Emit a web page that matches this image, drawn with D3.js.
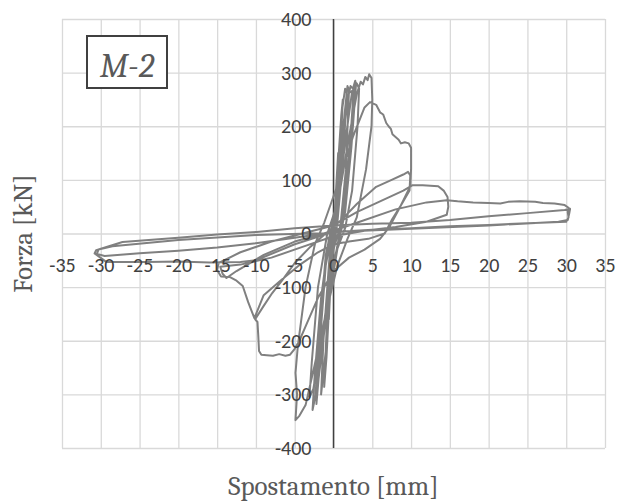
<!DOCTYPE html>
<html>
<head>
<meta charset="utf-8">
<script src="https://cdn.jsdelivr.net/npm/d3@7"></script>
<style>
  body { margin: 0; background: #fff; }
  svg { display: block; }
</style>
</head>
<body>
<div id="container"></div>
<script>
/* CONSTANTS AND GLOBALS */
const width = 630;
const height = 503;
const margin = {top: 19, bottom: 55, left: 62, right: 25};

/* DATA */
const xTicks = [-35, -30, -25, -20, -15, -10, -5, 0, 5, 10, 15, 20, 25, 30, 35];
const yTicks = [-400, -300, -200, -100, 0, 100, 200, 300, 400];
const specimen = "M-2";

// spostamento [mm] in load order
const spostamento = [
  0, 0.4, 0.6, 0.3, 0, -0.4, -0.6, -0.3, 0,
  0.5, 1.0, 1.2, 0.8, 0.3, -0.3, -0.9, -1.2, -0.8, -0.2,
  0.4, 1.1, 1.5, 1.7, 1.3, 0.5, -0.2, -1.0, -1.6, -1.3, -0.5,
  0.2, 1.0, 1.8, 2.2, 2.5, 2.8, 2.9, 2.3, 1.5, 0.6, -1.0, -2.0, -2.7, -2.4, -1.6, -0.6,
  0.5, 1.6, 2.4, 2.8, 3.0, 3.3, 3.1, 2.4, 1.5, 0.2, -1.3, -2.6, -3.1, -2.8, -2.0, -0.8,
  0.6, 1.4, 2.0, 2.6, 2.2, 1.2, 0.0, -1.5, -2.3, -2.0, -1.0,
  0.2, 1.2, 1.8, 2.0, 1.6, 0.8, -0.8, -1.8, -2.2, -1.9, -1.0, 0.0,
  0.6, 2.0, 3.0, 3.5, 3.8, 4.1, 4.4, 4.6, 4.9, 5.0, 4.9, 4.2, 3.0, 1.8, 0.5,
  -1.0, -2.5, -3.6, -4.4, -4.9, -4.7, -4.9, -4.6, -3.6, -2.4, -1.2,
  0.5, 2.5, 4.0, 4.7, 5.5, 6.0, 6.4, 6.8, 7.1, 7.4, 7.6, 8.0, 8.4, 8.7, 9.2, 9.7, 10.0, 10.0, 9.9,
  8.6, 7.2, 6.0, 4.0, 2.0, 0.0, -2.0, -3.5, -4.4, -5.0, -5.6, -6.2, -7.0, -7.8, -8.6, -9.3, -9.6, -9.7, -9.8, -10.1,
  -9.0, -7.9, -6.5, -5.0, -3.0, -1.0, 1.0, 3.0, 5.5, 7.5, 9.0, 9.6, 9.9, 9.8,
  8.8, 7.5, 6.6, 4.5, 2.0, 0.0, -2.0, -4.5, -7.0, -9.0, -10.2, -11.0, -11.7, -12.5, -13.4, -14.5, -15.0, -14.8,
  -12.0, -8.0, -4.0, 0.0, 3.0, 6.0, 9.0, 10.2, 11.5, 12.5, 13.5, 14.2, 14.7, 14.8, 14.6,
  12.0, 8.0, 4.0, 0.0, -4.0, -8.0, -12.0, -14.6, -14.3, -13.8,
  -12.5, -9.0, -5.0, 0.0, 3.0, 8.0, 12.0, 14.6, 16.0, 18.0, 20.0, 21.5, 22.5, 24.0, 26.0, 27.0, 28.5, 29.8, 30.3, 30.2, 30.3, 30.0,
  25.0, 20.0, 15.0, 10.0, 5.0, 0.0, -5.0, -10.0, -12.0, -16.0, -20.0, -24.0, -27.6, -29.3, -30.8,
  -30.6, -27.2, -20.0, -15.0, -9.9, -5.0, 0.0, 5.0, 10.0, 15.0, 20.0, 25.0, 29.8, 30.5, 30.4, 30.2,
  29.0, 20.0, 10.0, 0.0, -5.0, -10.0, -15.0, -20.0, -25.0, -29.5, -30.5, -30.3,
  -28.5, -20.0, -10.0, -3.0, 0.0
];

// forza [kN], same order
const forza = [
  0, 100, 150, 60, 5, -100, -160, -60, -5,
  110, 220, 250, 120, 20, -60, -230, -286, -150, -20,
  60, 230, 270, 262, 150, 20, -50, -220, -300, -200, -40,
  30, 160, 250, 275, 270, 285, 278, 160, 40, -20, -160, -280, -329, -260, -120, -10,
  50, 180, 265, 272, 280, 270, 200, 80, 10, -40, -180, -290, -305, -240, -100, 0,
  60, 200, 262, 268, 180, 30, -30, -200, -300, -220, -40,
  40, 190, 275, 268, 120, 0, -120, -250, -318, -230, -60, 20,
  60, 180, 260, 283, 278, 292, 286, 297, 290, 250, 200, 120, 30, -10, -60,
  -150, -250, -320, -340, -348, -300, -260, -210, -100, -20, 20,
  90, 180, 235, 245, 240, 226, 222, 206, 200, 195, 185, 180, 175, 168, 170, 168, 160, 120, 88,
  50, 12, -10, -30, -45, -70, -120, -170, -200, -215, -226, -228, -225, -228, -227, -226, -219, -190, -165, -160,
  -135, -111, -85, -55, -25, 0, 25, 55, 87, 100, 110, 115, 108, 80,
  55, 25, 0, -10, -15, -20, -35, -60, -90, -115, -158, -128, -98, -88, -81, -80, -68, -55,
  -35, -15, 0, 15, 40, 60, 80, 90, 90, 89, 88, 80, 68, 50, 35,
  22, 12, 5, -5, -25, -45, -58, -62, -75, -83,
  -70, -40, -15, 5, 20, 45, 58, 62, 60, 58, 57, 56, 59, 60, 59, 57, 56, 53, 48, 40, 30, 22,
  19, 16, 13.6, 10, 7, 3, -20, -50, -53, -54, -52, -53, -53, -53, -37,
  -31, -16, -8, -2, 3, 10, 15, 18, 20, 25, 32, 38, 44, 46, 38, 25,
  22, 15, 9, 3, -8, -18, -26, -32, -37, -42, -38, -30,
  -24, -12, -3, 0, 0
];

const data = spostamento.map((d, i) => ({x: d, y: forza[i]}));

/* SCALES */
const xScale = d3.scaleLinear()
  .domain([-35, 35])
  .range([margin.left, width - margin.right]);

const yScale = d3.scaleLinear()
  .domain([-400, 400])
  .range([height - margin.bottom, margin.top]);

/* HTML ELEMENTS */
const svg = d3.select("#container")
  .append("svg")
  .attr("width", width)
  .attr("height", height);

// gridlines
svg.append("g")
  .attr("transform", `translate(0,${height - margin.bottom})`)
  .call(d3.axisBottom(xScale).tickValues(xTicks).tickSize(-(height - margin.top - margin.bottom)).tickFormat(""))
  .call(g => g.select(".domain").remove())
  .call(g => g.selectAll("line").attr("stroke", "#d9d9d9").attr("stroke-width", 1.3));

svg.append("g")
  .attr("transform", `translate(${margin.left},0)`)
  .call(d3.axisLeft(yScale).tickValues(yTicks).tickSize(-(width - margin.left - margin.right)).tickFormat(""))
  .call(g => g.select(".domain").remove())
  .call(g => g.selectAll("line").attr("stroke", "#d9d9d9").attr("stroke-width", 1.3));

// vertical axis line at x = 0
svg.append("line")
  .attr("x1", xScale(0)).attr("x2", xScale(0))
  .attr("y1", yScale(400)).attr("y2", yScale(-400))
  .attr("stroke", "#404040")
  .attr("stroke-width", 1.5);

// hysteresis curve
const line = d3.line()
  .x(d => xScale(d.x))
  .y(d => yScale(d.y));

svg.append("path")
  .datum(data)
  .attr("d", line)
  .attr("fill", "none")
  .attr("stroke", "#808080")
  .attr("stroke-width", 2)
  .attr("stroke-linejoin", "round");

// tick labels on top of the curve (plain hyphen as minus sign, like the original)
const labelFont = "Carlito, Calibri, Lato, sans-serif";

svg.append("g")
  .attr("transform", `translate(0,${yScale(0)})`)
  .call(d3.axisBottom(xScale).tickValues(xTicks).tickSize(0).tickPadding(24).tickFormat(d => String(d)))
  .call(g => g.select(".domain").remove())
  .call(g => g.selectAll("text")
    .attr("font-family", labelFont).attr("font-size", 20).attr("fill", "#404040"));

svg.append("g")
  .attr("transform", `translate(${xScale(0)},0)`)
  .call(d3.axisLeft(yScale).tickValues(yTicks).tickSize(0).tickPadding(22).tickFormat(d => String(d)))
  .call(g => g.select(".domain").remove())
  .call(g => g.selectAll("text")
    .attr("font-family", labelFont).attr("font-size", 20).attr("fill", "#404040"));

// axis titles
svg.append("text")
  .attr("x", (margin.left + width - margin.right) / 2)
  .attr("y", 495)
  .attr("text-anchor", "middle")
  .attr("font-family", "Cambria, 'Liberation Serif', serif")
  .attr("font-size", 27)
  .attr("fill", "#595959")
  .text("Spostamento [mm]");

svg.append("text")
  .attr("transform", `translate(32,${yScale(0)}) rotate(-90)`)
  .attr("text-anchor", "middle")
  .attr("font-family", "Cambria, 'Liberation Serif', serif")
  .attr("font-size", 27)
  .attr("fill", "#595959")
  .text("Forza [kN]");

// specimen label box
svg.append("rect")
  .attr("x", 87).attr("y", 36)
  .attr("width", 80).attr("height", 52)
  .attr("fill", "#fff")
  .attr("stroke", "#404040")
  .attr("stroke-width", 2);

svg.append("text")
  .attr("x", 127).attr("y", 77)
  .attr("text-anchor", "middle")
  .attr("font-family", "Cambria, 'Liberation Serif', serif")
  .attr("font-style", "italic")
  .attr("font-size", 34)
  .attr("fill", "#595959")
  .text(specimen);
</script>
</body>
</html>
